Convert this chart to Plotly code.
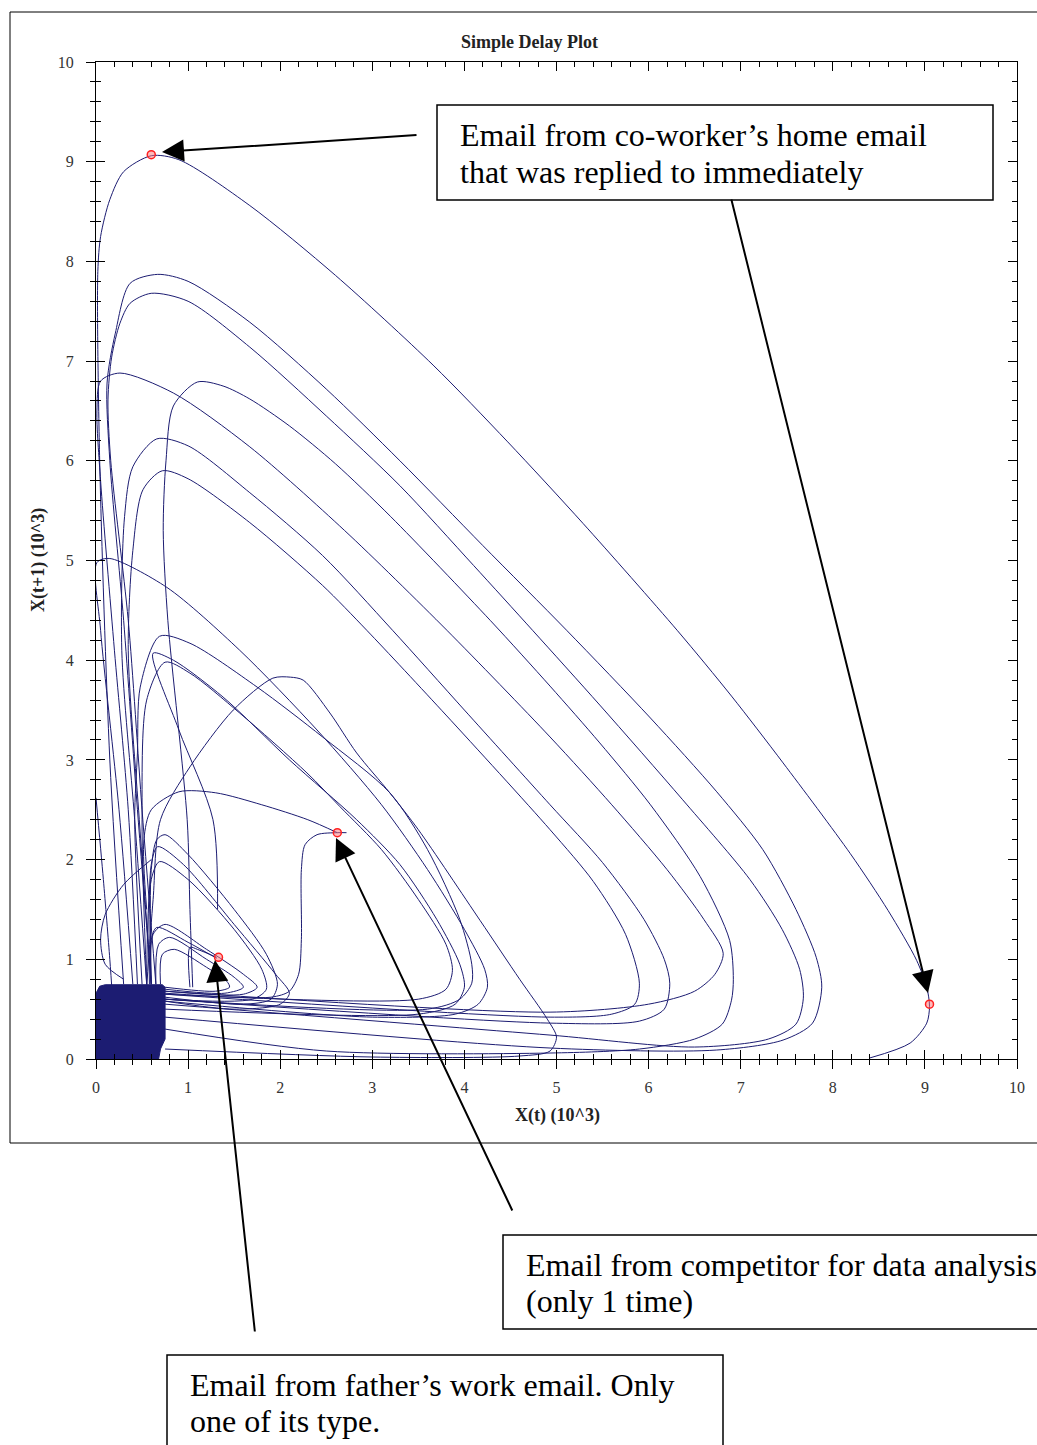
import plotly.graph_objects as go

NAVY = "#1c1c72"

# ---- data (X(t), X(t+1)) in units of 10^3 ----
L1_X = [0.3, 0.15, 0.04, 0.02, 0.05, 0.15, 0.3, 0.6, 0.9, 1.67, 2.6, 3.66, 4.47, 5.29, 6.31, 6.9, 7.46, 8.19, 8.6, 8.91, 9.02, 9.05, 9.02, 8.84, 8.4]
L1_Y = [0.75, 3.0, 6.0, 7.9, 8.25, 8.62, 8.9, 9.06, 9.02, 8.56, 7.86, 6.96, 6.19, 5.37, 4.3, 3.64, 2.97, 2.06, 1.49, 0.99, 0.72, 0.53, 0.36, 0.16, 0.01]

L2_X = [0.6, 0.45, 0.3, 0.15, 0.12, 0.21, 0.37, 0.67, 1.0, 1.67, 2.5, 3.3, 4.2, 5.11, 6.02, 6.74, 7.24, 7.6, 7.82, 7.88, 7.78, 7.46, 6.74, 4.93, 0.75]
L2_Y = [0.75, 2.5, 4.4, 6.0, 6.78, 7.28, 7.78, 7.87, 7.8, 7.39, 6.72, 6.0, 5.15, 4.3, 3.42, 2.68, 2.1, 1.5, 1.02, 0.72, 0.36, 0.19, 0.09, 0.11, 0.42]

L3_X = [0.65, 0.5, 0.35, 0.16, 0.13, 0.17, 0.26, 0.37, 0.6, 1.0, 1.67, 2.5, 3.3, 4.1, 4.74, 5.47, 6.37, 7.1, 7.45, 7.64, 7.68, 7.6, 7.3, 6.5, 4.93, 0.75]
L3_Y = [0.75, 2.5, 4.4, 6.0, 6.61, 7.04, 7.38, 7.58, 7.68, 7.6, 7.14, 6.45, 5.75, 4.95, 4.3, 3.55, 2.6, 1.8, 1.3, 0.9, 0.61, 0.35, 0.2, 0.12, 0.24, 0.55]

L4_X = [0.45, 0.35, 0.2, 0.05, 0.01, 0.05, 0.26, 0.84, 1.67, 2.7, 3.81, 4.93, 5.6, 6.2, 6.6, 6.81, 6.72, 6.5, 6.0, 4.93, 0.75]
L4_Y = [0.75, 2.5, 4.1, 5.8, 6.5, 6.8, 6.88, 6.68, 6.14, 5.3, 4.3, 3.23, 2.55, 1.9, 1.4, 1.06, 0.85, 0.68, 0.55, 0.47, 0.68]

L5_X = [1.05, 1.02, 0.99, 0.78, 0.73, 0.76, 0.84, 1.1, 1.38, 1.67, 2.1, 2.6, 3.2, 4.28, 4.93, 5.47, 6.02, 6.56, 6.88, 6.92, 6.9, 6.8, 6.5, 5.9, 4.93, 2.5, 0.75]
L5_Y = [0.72, 1.5, 2.4, 4.4, 5.3, 6.0, 6.55, 6.79, 6.75, 6.62, 6.35, 5.97, 5.44, 4.4, 3.74, 3.17, 2.55, 1.83, 1.19, 0.8, 0.59, 0.35, 0.2, 0.1, 0.06, 0.08, 0.3]

L6_X = [0.55, 0.42, 0.28, 0.31, 0.4, 0.66, 1.0, 1.67, 2.46, 3.22, 4.0, 4.93, 5.5, 5.95, 6.17, 6.23, 6.17, 5.9, 4.93, 0.75]
L6_Y = [0.75, 2.4, 4.1, 5.44, 5.94, 6.22, 6.15, 5.68, 5.05, 4.3, 3.5, 2.55, 1.97, 1.4, 1.0, 0.76, 0.5, 0.38, 0.36, 0.6]

L7_X = [0.6, 0.47, 0.35, 0.4, 0.51, 0.72, 1.0, 1.67, 2.46, 2.94, 3.8, 4.93, 5.4, 5.75, 5.9, 5.85, 5.6, 4.93, 0.75]
L7_Y = [0.75, 2.4, 4.1, 5.1, 5.71, 5.9, 5.82, 5.38, 4.75, 4.3, 3.45, 2.3, 1.78, 1.25, 0.76, 0.55, 0.45, 0.42, 0.65]

L8_X = [0.4, 0.25, 0.05, 0.01, 0.15, 0.77, 1.56, 2.4, 3.1, 3.6, 4.0, 4.22, 4.25, 4.15, 3.9, 3.0, 0.75]
L8_Y = [0.75, 2.5, 4.3, 4.98, 5.02, 4.73, 4.1, 3.3, 2.55, 1.9, 1.3, 0.9, 0.72, 0.55, 0.45, 0.42, 0.58]

L9_X = [0.5, 0.42, 0.45, 0.48, 0.69, 1.02, 1.75, 2.46, 3.19, 3.6, 3.95, 4.08, 4.08, 3.95, 3.6, 0.75]
L9_Y = [0.75, 2.4, 3.07, 3.73, 4.24, 4.17, 3.73, 3.23, 2.67, 2.1, 1.4, 0.95, 0.76, 0.6, 0.5, 0.6]

L10_X = [1.32, 1.27, 0.9, 0.62, 0.84, 1.38, 2.1, 2.83, 3.3, 3.7, 3.95, 4.0, 3.9, 3.5, 0.75]
L10_Y = [1.5, 2.4, 3.3, 4.07, 4.0, 3.63, 3.0, 2.4, 1.95, 1.4, 0.95, 0.72, 0.55, 0.45, 0.5]

L11_X = [0.55, 0.5, 0.55, 0.75, 1.02, 1.56, 2.29, 2.65, 3.1, 3.5, 3.8, 3.87, 3.8, 3.5, 0.75]
L11_Y = [0.75, 2.4, 3.6, 3.98, 3.87, 3.47, 2.87, 2.53, 2.1, 1.6, 1.15, 0.89, 0.7, 0.6, 0.65]

L12_X = [0.55, 0.62, 0.7, 1.02, 1.49, 1.92, 2.11, 2.25, 2.54, 2.83, 3.19, 3.5, 4.17, 4.6, 4.9, 5.0, 4.93, 4.6, 3.0, 0.75]
L12_Y = [0.72, 1.6, 2.4, 2.93, 3.5, 3.82, 3.83, 3.8, 3.47, 3.07, 2.67, 2.3, 1.39, 0.8, 0.4, 0.22, 0.08, 0.03, 0.02, 0.1]

L13_X = [0.55, 0.52, 0.6, 0.9, 1.3, 1.8, 2.3, 2.62]
L13_Y = [1.5, 2.2, 2.5, 2.68, 2.67, 2.55, 2.4, 2.27]

L14_X = [2.72, 2.62, 2.4, 2.27, 2.23, 2.23, 2.2, 2.1, 1.9, 0.75]
L14_Y = [2.27, 2.27, 2.25, 2.15, 1.9, 1.2, 0.85, 0.68, 0.62, 0.66]

L15_X = [0.0, 0.08, 0.15, 0.18]
L15_Y = [2.62, 1.8, 1.0, 0.6]

S1_X = [0.6, 0.6, 0.66, 0.75, 1.0, 1.5, 1.85, 1.97, 1.9, 1.6, 0.75]
S1_Y = [0.75, 1.9, 2.2, 2.25, 2.05, 1.5, 1.05, 0.75, 0.6, 0.55, 0.62]
S2_X = [0.58, 0.6, 0.67, 0.95, 1.5, 1.95, 2.1, 2.0, 1.5, 0.75]
S2_Y = [0.75, 1.95, 2.13, 1.95, 1.35, 0.85, 0.66, 0.55, 0.5, 0.58]
S3_X = [0.55, 0.6, 0.69, 1.0, 1.5, 1.8, 1.85, 1.7, 0.75]
S3_Y = [0.75, 1.8, 1.98, 1.8, 1.3, 0.9, 0.7, 0.6, 0.6]
S4_X = [0.6, 0.6, 0.66, 1.0, 1.31]
S4_Y = [0.75, 1.2, 1.32, 1.17, 1.01]
S5_X = [0.6, 0.62, 0.75, 1.2, 1.6, 1.75, 1.6, 0.75]
S5_Y = [0.75, 1.25, 1.35, 1.1, 0.85, 0.72, 0.65, 0.68]
S6_X = [0.65, 0.68, 0.8, 1.2, 1.5, 1.6, 1.4, 0.75]
S6_Y = [0.75, 1.15, 1.22, 1.0, 0.82, 0.72, 0.66, 0.7]
S7_X = [0.7, 0.72, 0.85, 1.2, 1.42, 1.45, 1.3, 0.75]
S7_Y = [0.75, 1.05, 1.1, 0.92, 0.78, 0.72, 0.68, 0.72]
S8_X = [1.02, 1.02, 1.1, 1.31]
S8_Y = [0.72, 1.12, 1.1, 1.02]
S9_X = [0.6, 0.3, 0.1, 0.05, 0.1, 0.3]
S9_Y = [2.0, 1.75, 1.45, 1.2, 0.95, 0.8]

# dense cluster near the origin (outline)
CL_X = [0.0, 0.0, 0.04, 0.1, 0.72, 0.75, 0.75, 0.7, 0.68, 0.0]
CL_Y = [0.0, 0.66, 0.73, 0.745, 0.745, 0.72, 0.2, 0.1, 0.0, 0.0]

# highlighted emails
MARK_X = [0.6, 1.33, 2.62, 9.05]
MARK_Y = [9.07, 1.02, 2.27, 0.55]

TICKS = list(range(0, 11))

loops = [(L1_X, L1_Y), (L2_X, L2_Y), (L3_X, L3_Y), (L4_X, L4_Y), (L5_X, L5_Y),
         (L6_X, L6_Y), (L7_X, L7_Y), (L8_X, L8_Y), (L9_X, L9_Y), (L10_X, L10_Y),
         (L11_X, L11_Y), (L12_X, L12_Y), (L13_X, L13_Y), (L14_X, L14_Y), (L15_X, L15_Y),
         (S1_X, S1_Y), (S2_X, S2_Y), (S3_X, S3_Y), (S4_X, S4_Y), (S5_X, S5_Y),
         (S6_X, S6_Y), (S7_X, S7_Y), (S8_X, S8_Y), (S9_X, S9_Y)]

fig = go.Figure()
fig.add_trace(go.Scatter(x=CL_X, y=CL_Y, mode="lines", fill="toself", fillcolor=NAVY,
                         line=dict(color=NAVY, width=1), hoverinfo="skip", showlegend=False))
for lx, ly in loops:
    fig.add_trace(go.Scatter(x=lx, y=ly, mode="lines",
                             line=dict(color=NAVY, width=1, shape="spline", smoothing=0.8),
                             hoverinfo="skip", showlegend=False))
fig.add_trace(go.Scatter(x=MARK_X, y=MARK_Y, mode="markers",
                         marker=dict(symbol="circle", size=8, color="rgba(255,120,120,0.5)",
                                     line=dict(color="#ff2020", width=1.5)),
                         hoverinfo="skip", showlegend=False))
# carrier trace for the outer tick axes
fig.add_trace(go.Scatter(x=[None], y=[None], xaxis="x2", yaxis="y2", showlegend=False))

SERIF = "Liberation Serif, Times New Roman, serif"
tickfont = dict(family=SERIF, size=16, color="#333333")

fig.update_layout(
    width=1037, height=1445,
    margin=dict(l=96, r=20, t=62, b=386),
    paper_bgcolor="white", plot_bgcolor="white",
    showlegend=False,
    xaxis=dict(range=[0, 10], showgrid=False, zeroline=False, showline=True, linecolor="black",
               linewidth=1, mirror="ticks", ticks="inside", ticklen=9, tickcolor="black",
               tickvals=TICKS, showticklabels=False,
               minor=dict(ticks="inside", ticklen=5, dtick=0.2, tickcolor="black", showgrid=False)),
    yaxis=dict(range=[0, 10], showgrid=False, zeroline=False, showline=True, linecolor="black",
               linewidth=1, mirror="ticks", ticks="inside", ticklen=9, tickcolor="black",
               tickvals=TICKS, showticklabels=False,
               minor=dict(ticks="inside", ticklen=5, dtick=0.2, tickcolor="black", showgrid=False)),
    xaxis2=dict(range=[0, 10], overlaying="x", anchor="y2", side="bottom", showgrid=False,
                zeroline=False, showline=False, ticks="outside", ticklen=9, tickcolor="black",
                tickvals=TICKS, ticktext=[str(t) for t in TICKS], tickfont=tickfont,
                ticklabelstandoff=5,
                minor=dict(ticks="outside", ticklen=5, dtick=0.2, tickcolor="black", showgrid=False)),
    yaxis2=dict(range=[0, 10], overlaying="y", anchor="x2", side="left", showgrid=False,
                zeroline=False, showline=False, ticks="outside", ticklen=9, tickcolor="black",
                tickvals=TICKS, ticktext=[str(t) for t in TICKS], tickfont=tickfont,
                ticklabelstandoff=9,
                minor=dict(ticks="outside", ticklen=5, dtick=0.2, tickcolor="black", showgrid=False)),
)

W, H = 921.0, 997.0
def px(x):
    return (x - 96) / W
def py(y):
    return (1059 - y) / H

shapes = [
    dict(type="rect", xref="paper", yref="paper", x0=px(10), x1=px(1045), y0=py(1143), y1=py(12),
         line=dict(color="black", width=1), fillcolor="rgba(0,0,0,0)", layer="below"),
    dict(type="rect", xref="paper", yref="paper", x0=px(437), x1=px(993), y0=py(200), y1=py(105),
         line=dict(color="black", width=1.5), fillcolor="white"),
    dict(type="rect", xref="paper", yref="paper", x0=px(503), x1=px(1045), y0=py(1329), y1=py(1235),
         line=dict(color="black", width=1.5), fillcolor="white"),
    dict(type="rect", xref="paper", yref="paper", x0=px(167), x1=px(723), y0=py(1460), y1=py(1355),
         line=dict(color="black", width=1.5), fillcolor="white"),
]
fig.update_layout(shapes=shapes)

ann = []
ann.append(dict(text="<b>Simple Delay Plot</b>", xref="paper", yref="paper", x=px(529), y=py(42),
                xanchor="center", yanchor="middle",
                showarrow=False, font=dict(family=SERIF, size=18, color="#222")))
ann.append(dict(text="<b>X(t) (10^3)</b>", xref="paper", yref="paper", x=px(557), y=py(1115),
                xanchor="center", yanchor="middle",
                showarrow=False, font=dict(family=SERIF, size=18, color="#222")))
ann.append(dict(text="<b>X(t+1) (10^3)</b>", xref="paper", yref="paper", x=px(38), y=py(560),
                xanchor="center", yanchor="middle",
                showarrow=False, textangle=-90, font=dict(family=SERIF, size=18, color="#222")))

box_lines = [
    ("Email from co-worker’s home email", 458, 135),
    ("that was replied to immediately", 458, 172),
    ("Email from competitor for data analysis", 524, 1265),
    ("(only 1 time)", 524, 1301),
    ("Email from father’s work email. Only", 188, 1385),
    ("one of its type.", 188, 1421),
]
for t, x, y in box_lines:
    ann.append(dict(text=t, xref="paper", yref="paper", x=px(x), y=py(y), xanchor="left",
                    yanchor="middle", showarrow=False,
                    font=dict(family=SERIF, size=32, color="black")))

def dx(p):
    return (p - 96) / 92.1
def dy(p):
    return (1059 - p) / 99.7

arrows = [((162, 152), (418, 135)), ((928, 993), (731, 198)),
          ((336, 838), (513, 1212)), ((215, 960), (255, 1333))]
for (hx, hy), (tx, ty) in arrows:
    ann.append(dict(text="", x=dx(hx), y=dy(hy), xref="x", yref="y",
                    ax=dx(tx), ay=dy(ty), axref="x", ayref="y",
                    showarrow=True, arrowhead=2, arrowsize=2.2, arrowwidth=2,
                    arrowcolor="black", standoff=0))
fig.update_layout(annotations=ann)

fig.write_html("out.html", config={"displayModeBar": False},
               post_script="document.body.style.margin='0px';document.body.style.padding='0px';")
